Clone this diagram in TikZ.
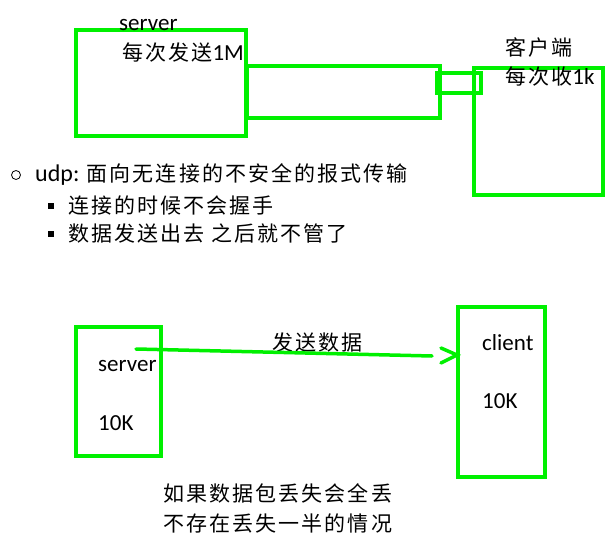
\documentclass[tikz,border=0pt]{standalone}
\usepackage{fontspec}
\setmainfont{Carlito}
\newfontfamily\cjk{Noto Sans CJK SC}[LetterSpace=10]
\definecolor{gline}{RGB}{0,240,0}
\begin{document}
\begin{tikzpicture}[x=1pt,y=-1pt,
  gbox/.style={draw=gline,line width=3.5pt,rectangle,inner sep=0pt,outer sep=0pt},
  lbl/.style={anchor=west,inner sep=0pt,font=\fontsize{23}{27}\selectfont},
  ctxt/.style={anchor=west,inner sep=0pt,font=\fontsize{21}{25}\selectfont\cjk},
  gl/.style={draw=gline,line width=3.5pt}]
\useasboundingbox (0,0) rectangle (613,545);
% top diagram
\node[gbox,minimum width=170pt,minimum height=106pt] (srv1) at (161,83) {};
\node[gbox,minimum width=193pt,minimum height=52pt] (pipe) at (343.5,92) {};
\node[gbox,minimum width=44pt,minimum height=20pt] (nozzle) at (459,83) {};
\node[gbox,minimum width=129pt,minimum height=127pt] (cli1) at (538.5,131.5) {};
\node[lbl] (srvname1) at (119,25) {server};
\node[lbl] (send1) at (122,53) {{\fontsize{21}{25}\selectfont\cjk 每次发送}1M};
\node[ctxt] (cliname1) at (505,47) {客户端};
\node[lbl] (recv1) at (505,77) {{\fontsize{21}{25}\selectfont\cjk 每次收}1k};
% bullets
\node[draw=black,circle,line width=0.8pt,minimum size=9pt,inner sep=0pt] (b0) at (16,175) {};
\node[lbl,font=\fontsize{24}{28}\selectfont] (t0) at (35,175) {udp: {\fontsize{21}{25}\selectfont\cjk 面向无连接的不安全的报式传输}};
\node[fill=black,minimum size=6pt,inner sep=0pt] (b1) at (51,206) {};
\node[ctxt] (t1) at (68,206) {连接的时候不会握手};
\node[fill=black,minimum size=6pt,inner sep=0pt] (b2) at (51,234) {};
\node[ctxt] (t2) at (68,233) {数据发送出去 之后就不管了};
% bottom diagram
\node[gbox,minimum width=85pt,minimum height=129pt] (srv2) at (118.5,391.5) {};
\node[gbox,minimum width=87pt,minimum height=170pt] (cli2) at (501.5,392) {};
\node[lbl] (srvname2) at (98,366) {server};
\node[lbl] (srvsize) at (98,423) {10K};
\node[lbl] (cliname2) at (482,343) {client};
\node[lbl] (clisize) at (482,401) {10K};
\node[ctxt] (sendlbl) at (272,343) {发送数据};
\coordinate (ls) at (136,349);
\coordinate (le) at (432,356);
\coordinate (ha) at (441,348);
\coordinate (ht) at (457,355);
\coordinate (hb) at (441,363);
\draw[gl,line cap=round] (ls) -- (le);
\draw[gl,line cap=round,line join=miter] (ha) -- (ht) -- (hb);
\node[ctxt] (note1) at (163,493) {如果数据包丢失会全丢};
\node[ctxt] (note2) at (163,523) {不存在丢失一半的情况};
\end{tikzpicture}
\end{document}
